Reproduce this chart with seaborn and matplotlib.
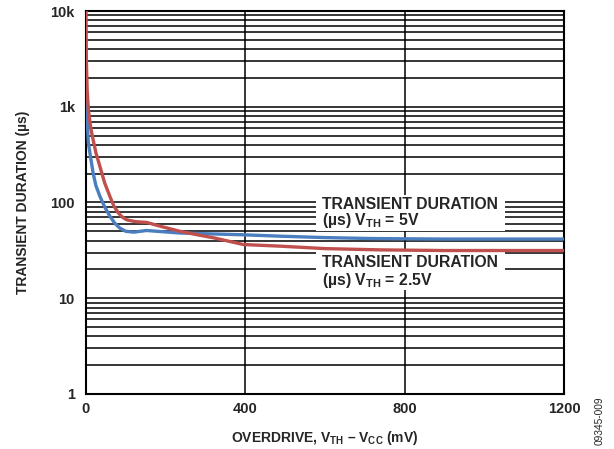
import matplotlib
matplotlib.use("Agg")
import matplotlib.pyplot as plt
from matplotlib.patches import Rectangle
import pandas as pd
import seaborn as sns

# overdrive (mV) vs transient duration (us)
x_5v = [0, 2, 6, 12, 18, 25, 35, 47, 60, 72, 85, 100, 120, 152, 236, 395, 487, 600, 721, 900, 1200]
y_5v = [1300, 900, 420, 290, 203, 150, 116, 90, 72, 61, 54, 50, 49, 51, 48, 46, 44.5, 43, 42, 41.5, 41.5]

x_2v5 = [0, 1, 3, 6, 12, 18, 25, 35, 47, 60, 70, 81, 92, 102, 125, 152, 190, 236, 280, 320, 395, 487, 600, 739, 900, 1200]
y_2v5 = [10000, 3000, 1500, 930, 600, 452, 330, 238, 160, 116, 92, 78, 70, 66, 63, 62, 56, 50, 46, 42.8, 36.4, 35, 33, 32, 31.5, 31.5]

y_ticks = [1, 10, 100, 1000, 10000]
y_ticklabels = ["1", "10", "100", "1k", "10k"]
x_ticks = [0, 400, 800, 1200]

sns.set_style("white")
plt.rcParams["font.family"] = ["Liberation Sans", "DejaVu Sans"]
plt.rcParams["font.weight"] = "bold"
plt.rcParams["mathtext.fontset"] = "custom"
plt.rcParams["mathtext.rm"] = "Liberation Sans:bold"
plt.rcParams["mathtext.bf"] = "Liberation Sans:bold"
plt.rcParams["mathtext.it"] = "Liberation Sans:bold"

df = pd.concat([
    pd.DataFrame({"x": x_5v, "y": y_5v, "s": "5V"}),
    pd.DataFrame({"x": x_2v5, "y": y_2v5, "s": "2.5V"}),
])

fig = plt.figure(figsize=(6.14, 4.49), dpi=100)
ax = fig.add_axes([0.140, 0.1225, 0.7786, 0.853])

ax.set_yscale("log")
ax.set_xlim(0, 1200)
ax.set_ylim(1, 10000)

# grid: every minor decade line plus 400 / 800 verticals
for dec in [1, 10, 100, 1000]:
    for m in range(1, 10):
        ax.axhline(dec * m, color="black", lw=1.1, zorder=1)
for xv in [400, 800]:
    ax.axvline(xv, color="black", lw=1.1, zorder=1)

sns.lineplot(data=df, x="x", y="y", hue="s", palette={"5V": "#4a7ebf", "2.5V": "#c0504d"},
             hue_order=["5V", "2.5V"], lw=2.4, legend=False, ax=ax, zorder=3, estimator=None, sort=False)

ax.set_yticks(y_ticks)
ax.set_yticklabels(y_ticklabels)
ax.yaxis.set_minor_locator(matplotlib.ticker.NullLocator())
ax.set_xticks(x_ticks)
ax.tick_params(labelsize=10.5, length=0)
ax.tick_params(axis="y", pad=8)
ax.tick_params(axis="x", pad=6)
for lab in ax.get_xticklabels() + ax.get_yticklabels():
    lab.set_fontweight("bold")

for sp in ax.spines.values():
    sp.set_linewidth(1.5)
    sp.set_color("black")

ax.set_xlabel(r"OVERDRIVE, V$_{\rm TH}$ – V$_{\rm CC}$ (mV)", fontsize=10, fontweight="bold", labelpad=9)
ax.set_ylabel("TRANSIENT DURATION (µs)", fontsize=10, fontweight="bold", labelpad=15)

# white label boxes knocking out the grid
ax.add_patch(Rectangle((577, 50), 475, 71, facecolor="white", edgecolor="none", zorder=2))
ax.add_patch(Rectangle((577, 12.3), 475, 18.5, facecolor="white", edgecolor="none", zorder=2))

lbl = dict(fontsize=11.3, fontweight="bold", ha="left", va="center", zorder=4)
ax.text(593, 95, "TRANSIENT DURATION", **lbl)
ax.text(593, 65, r"(µs) V$_{\rm TH}$ = 5V", **lbl)
ax.text(593, 23.6, "TRANSIENT DURATION", **lbl)
ax.text(593, 15.5, r"(µs) V$_{\rm TH}$ = 2.5V", **lbl)

fig.text(0.977, 0.063, "09345-009", rotation=90, fontsize=7.3, fontweight="normal", ha="center", va="center")

fig.savefig("out.png", dpi=100)
